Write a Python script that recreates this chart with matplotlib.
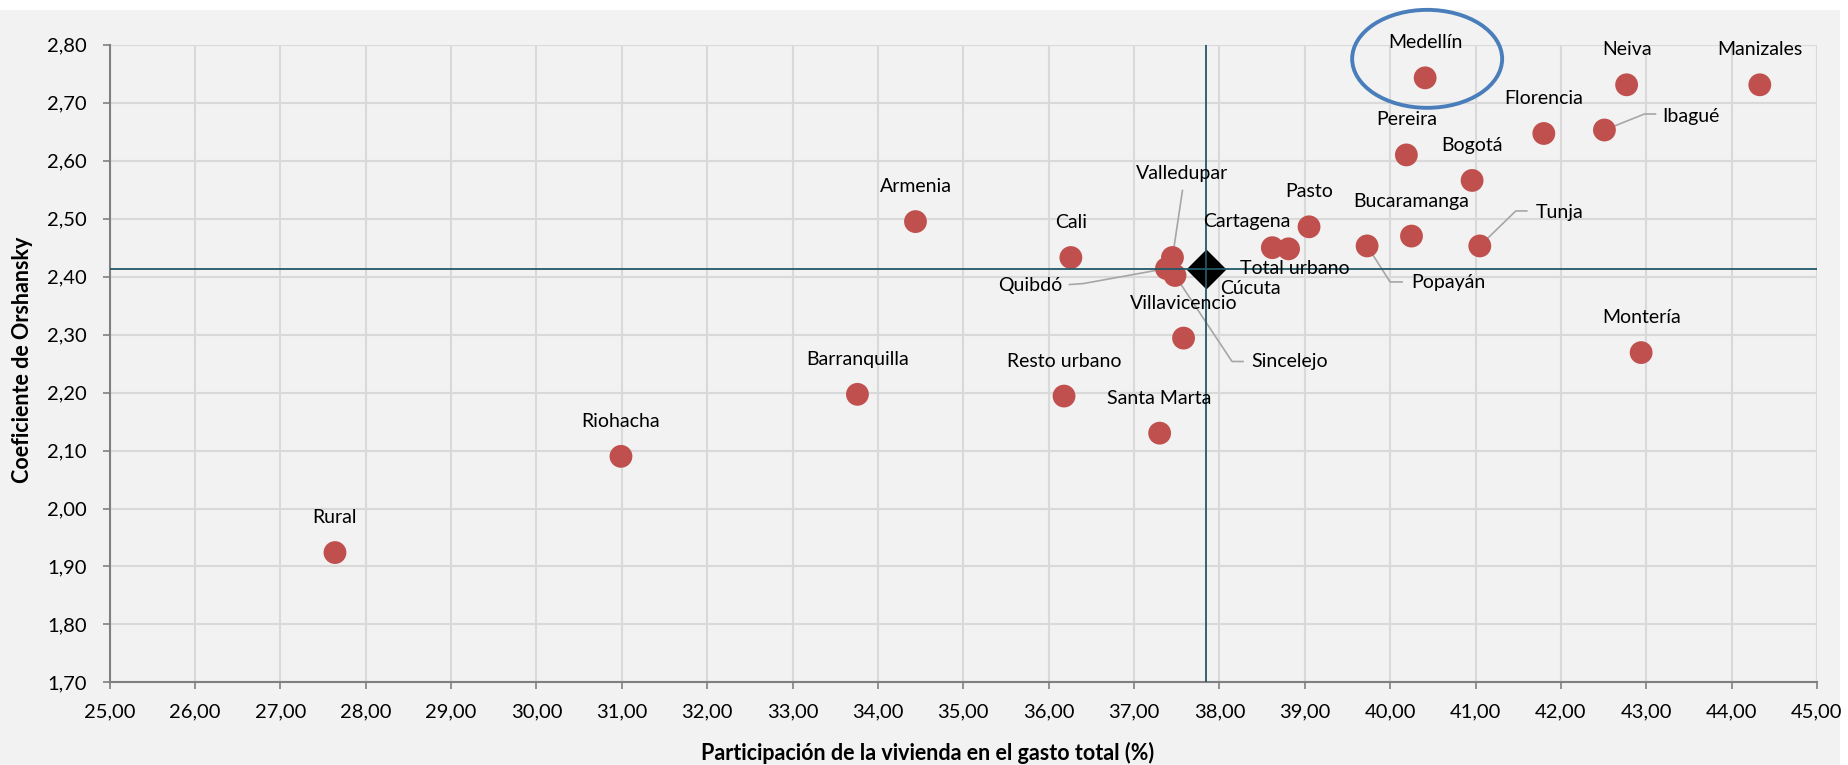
import numpy as np
import matplotlib
matplotlib.use("Agg")
import matplotlib.pyplot as plt
import matplotlib.transforms as mtransforms
from matplotlib.patches import Ellipse, Rectangle
from matplotlib.ticker import MultipleLocator, FuncFormatter

plt.rcParams['font.family'] = ['Lato', 'DejaVu Sans']

# ---- data ----
cities = ["Rural", "Riohacha", "Barranquilla", "Armenia", "Cali", "Resto urbano",
          "Santa Marta", "Villavicencio", "Quibdó", "Valledupar", "Sincelejo",
          "Cartagena", "Cúcuta", "Pasto", "Popayán", "Bucaramanga", "Pereira",
          "Medellín", "Bogotá", "Tunja", "Florencia", "Ibagué", "Neiva",
          "Montería", "Manizales"]
housing_share = [27.64, 30.99, 33.76, 34.44, 36.26, 36.18,
                 37.30, 37.58, 37.38, 37.45, 37.48,
                 38.62, 38.81, 39.05, 39.73, 40.25, 40.19,
                 40.41, 40.96, 41.05, 41.80, 42.51, 42.77,
                 42.94, 44.33]
orshansky = [1.924, 2.090, 2.197, 2.495, 2.433, 2.194,
             2.130, 2.294, 2.414, 2.433, 2.402,
             2.450, 2.448, 2.486, 2.453, 2.470, 2.610,
             2.743, 2.566, 2.453, 2.647, 2.653, 2.731,
             2.269, 2.731]

total_label = "Total urbano"
total_share = 37.84
total_orshansky = 2.414

highlight = "Medellín"

# ---- label layout (pixel offsets from the dot) ----
label_pos = {c: (0, 35, "center") for c in cities}
label_pos.update({
    "Cartagena": (-26, 26, "center"),
    "Cúcuta": (-38, -40, "center"),
    "Popayán": (44, -37, "left"),
    "Sincelejo": (76, -86, "left"),
    "Valledupar": (10, 84, "center"),
    "Quibdó": (-104, -17, "right"),
    "Tunja": (56, 33, "left"),
    "Ibagué": (58, 14, "left"),
})
leaders = {
    "Popayán": [(0, 0), (23, -36), (35, -36)],
    "Sincelejo": [(0, 0), (57, -86), (68, -86)],
    "Valledupar": [(0, 0), (10, 67)],
    "Quibdó": [(0, 0), (-83, -15), (-97, -16)],
    "Tunja": [(0, 0), (36, 35), (47, 35)],
    "Ibagué": [(0, 0), (40, 16), (51, 16)],
}

fig = plt.figure(figsize=(18.48, 7.65), dpi=100, facecolor="white")
fig.patches.append(Rectangle((0, 0), 1840 / 1848, 755 / 765, transform=fig.transFigure,
                             facecolor="#F2F2F2", edgecolor="none", zorder=-10))
ax = fig.add_axes([109.6 / 1848, 1 - 682.4 / 765, 1707.4 / 1848, 637.6 / 765])
ax.set_facecolor("#F2F2F2")

ax.set_xlim(25, 45)
ax.set_ylim(1.70, 2.80)
ax.xaxis.set_major_locator(MultipleLocator(1))
ax.yaxis.set_major_locator(MultipleLocator(0.1))
fmt = FuncFormatter(lambda v, p: f"{v:.2f}".replace(".", ","))
ax.xaxis.set_major_formatter(fmt)
ax.yaxis.set_major_formatter(fmt)
ax.grid(True, color="#D9D9D9", linewidth=1.5, zorder=0)
ax.set_axisbelow(True)
for s in ["top", "right"]:
    ax.spines[s].set_visible(False)
for s in ["left", "bottom"]:
    ax.spines[s].set_color("#808080")
    ax.spines[s].set_linewidth(1.5)
ax.tick_params(axis="both", direction="out", length=5, width=1.2, color="#808080",
               labelsize=14.5, labelcolor="black")
ax.tick_params(axis="x", pad=10)
ax.tick_params(axis="y", pad=11.5)

ax.set_xlabel("Participación de la vivienda en el gasto total (%)", fontsize=15.5,
              fontweight="bold", va="center")
ax.xaxis.set_label_coords(0.4793, -0.111)
ax.set_ylabel("Coeficiente de Orshansky", fontsize=15.5, fontweight="bold", va="center")
ax.yaxis.set_label_coords(-0.051, 0.506)

# points
ax.scatter(housing_share, orshansky, s=270, color="#C0504D", edgecolors="none", zorder=3)
ax.plot([total_share], [total_orshansky], marker="D", markersize=19, color="black",
        linestyle="none", zorder=4)

# cross lines at the urban total
ax.axvline(total_share, color="#215967", linewidth=1.3, zorder=5)
ax.axhline(total_orshansky, color="#215967", linewidth=1.3, zorder=5)

# labels
for c, x, y in zip(cities, housing_share, orshansky):
    dx, dy, ha = label_pos[c]
    ax.annotate(c, (x, y), xytext=(dx, dy), textcoords="offset pixels",
                ha=ha, va="center", fontsize=14, zorder=6)
    if c in leaders:
        tr = mtransforms.IdentityTransform() + mtransforms.ScaledTranslation(x, y, ax.transData)
        px, py = zip(*leaders[c])
        ax.plot(px, py, transform=tr, color="#A6A6A6", linewidth=1.2, zorder=2.5)

ax.annotate(total_label, (total_share, total_orshansky), xytext=(34, 0),
            textcoords="offset pixels", ha="left", va="center", fontsize=14, zorder=6)

# highlight ellipse around Medellín
i = cities.index(highlight)
etr = mtransforms.offset_copy(ax.transData, fig=fig, x=2, y=19, units="dots")
ax.add_patch(Ellipse((housing_share[i], orshansky[i]), 1.757, 0.169, transform=etr,
                     facecolor="none", edgecolor="#4A7EBB", linewidth=2.8,
                     clip_on=False, zorder=7))

fig.savefig("out.png", dpi=100)
